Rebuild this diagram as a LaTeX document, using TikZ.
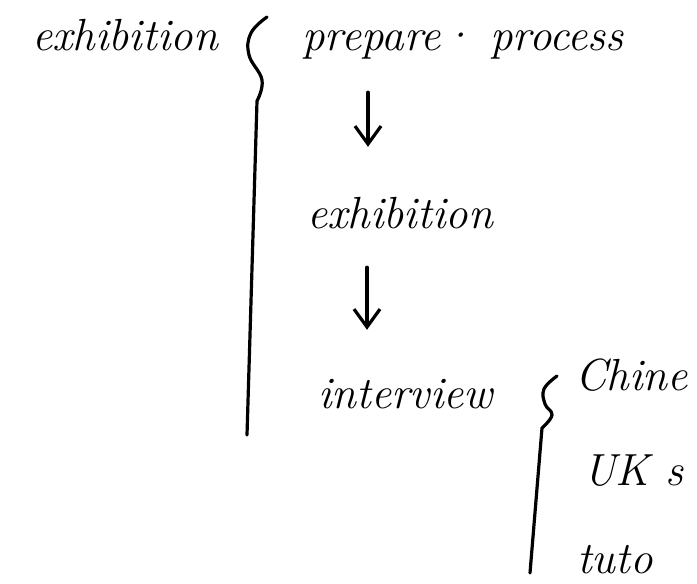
\documentclass[tikz,border=0pt]{standalone}
\usetikzlibrary{arrows.meta}
\begin{document}
\begin{tikzpicture}[x=1pt,y=-1pt,
        word/.style={anchor=base west,inner sep=0pt,text height=30pt,text depth=10pt,
            font=\fontsize{45}{54}\selectfont\itshape},
        pen/.style={line width=3.2pt,line cap=round,line join=round},
        flow/.style={pen,-{Straight Barb[length=18pt,width=26pt]}}]
        \useasboundingbox (0,0) rectangle (697,584);
        \node[word] (whole) at (32,50) {exhibition};
        \node[word] (prep) at (302,50) {prepare\textperiodcentered\ process};
        \node[word] (exh) at (307,228) {exhibition};
        \node[word] (intv) at (318,408) {interview};
        \node[word] (chin) at (575,390) {Chine};
        \node[word] (uks) at (583,485) {UK s};
        \node[word] (tuto) at (577,573) {tuto};
        \coordinate (ax) at (368,0);
        \coordinate (bx) at (367,0);
        \draw[flow,shorten <=32pt,shorten >=51pt] (prep.south -| ax) -- (exh.north -| ax);
        \draw[flow,shorten <=29pt,shorten >=48pt] (exh.south -| bx) -- (intv.north -| bx);
        \draw[pen] plot[smooth,tension=0.7] coordinates {(267,17) (251,33) (249,55) (262,80) (257,101)} -- (247,435);
        \draw[pen] plot[smooth,tension=0.7] coordinates {(557,376) (544,389) (545,404) (552,415) (542,428)} -- (530,573);
    \end{tikzpicture}
\end{document}
